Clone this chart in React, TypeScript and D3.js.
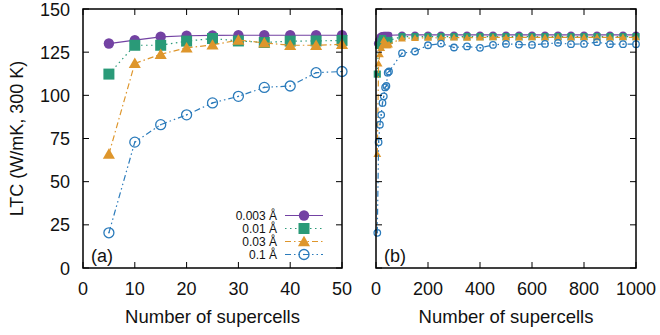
import React from 'react'
import * as d3 from 'd3'

// supercell counts
const xsSmall = [5, 10, 15, 20, 25, 30, 35, 40, 45, 50]
const xsLarge = [100, 150, 200, 250, 300, 350, 400, 450, 500, 550, 600, 650, 700, 750, 800, 850, 900, 950, 1000]

// LTC values (W/mK) per displacement
const ltc003Small = [130, 132, 133.9, 134.5, 134.7, 134.8, 134.8, 134.8, 134.8, 134.8]
const ltc003Large = [135, 135, 135, 135, 135, 135, 135, 135, 135, 135, 135, 135, 135, 135, 135, 135, 135, 135, 135]
const ltc01Small = [112.3, 129, 129, 131.4, 132.9, 131.5, 130.6, 131.4, 131.5, 131.8]
const ltc01Large = [134, 134, 134, 134, 134, 134, 134, 134, 134, 134, 134, 134, 134, 134, 134, 134, 134, 134, 134]
const ltc03Small = [66, 118.5, 123.8, 127.5, 129.2, 132, 130.4, 129, 129, 129.5]
const ltc03Large = [133, 133.2, 133.4, 133.3, 133.5, 133.4, 133.5, 133.6, 133.5, 133.5, 133.6, 133.5, 133.6, 133.5, 133.6, 133.6, 133.5, 133.6, 133.6]
const ltc1Small = [20.4, 72.9, 83, 88.7, 95.6, 99.4, 104.6, 105.4, 113.1, 113.8]
const ltc1Large = [124.4, 125.4, 129, 130, 127.7, 128.3, 127.5, 129.2, 129.8, 129.4, 129.2, 129.8, 130.4, 129.6, 129.8, 130.8, 129.6, 129.6, 129.6]

const seriesLabels = ['0.003 Å', '0.01 Å', '0.03 Å', '0.1 Å']
const colors = ['#7342a3', '#2a9a78', '#de962c', '#2b7bbb']
const dashes = ['none', '1.5,3.5', '6,3,1.5,3', '6,3,1.5,3,1.5,3']
const shapes = ['circle', 'square', 'triangle', 'open']

const yTicks = [0, 25, 50, 75, 100, 125, 150]
const xTicksA = [0, 10, 20, 30, 40, 50]
const xTicksB = [0, 200, 400, 600, 800, 1000]

const FONT = '"Liberation Sans", Arial, Helvetica, sans-serif'
const TOP = 9
const BOTTOM = 268

function Marker({ shape, color, x, y, s }) {
  if (shape === 'circle') return <circle cx={x} cy={y} r={5.2 * s} fill={color} />
  if (shape === 'square') return <rect x={x - 5.5 * s} y={y - 5.5 * s} width={11 * s} height={11 * s} fill={color} />
  if (shape === 'triangle') {
    const h = 5.5 * s
    return <path d={`M${x},${y - h * 1.05}L${x + h * 1.1},${y + h * 0.85}L${x - h * 1.1},${y + h * 0.85}Z`} fill={color} />
  }
  return (
    <g>
      <circle cx={x} cy={y} r={5 * s} fill="none" stroke={color} strokeWidth={1.3} />
      <circle cx={x} cy={y} r={0.8} fill={color} />
    </g>
  )
}

function Panel({ left, right, domainMax, ticks, series, ms, label }) {
  const x = d3.scaleLinear().domain([0, domainMax]).range([left, right])
  const y = d3.scaleLinear().domain([0, 150]).range([BOTTOM, TOP])
  const line = d3.line<number[]>().x(d => x(d[0])).y(d => y(d[1]))
  const tl = 6
  return (
    <g>
      {series.map((pts, i) => (
        <g key={i}>
          <path d={line(pts) || ''} fill="none" stroke={colors[i]} strokeWidth={1.2} strokeDasharray={dashes[i]} />
          {pts.map((p, j) => (
            <Marker key={j} shape={shapes[i]} color={colors[i]} x={x(p[0])} y={y(p[1])} s={ms} />
          ))}
        </g>
      ))}
      <rect x={left} y={TOP} width={right - left} height={BOTTOM - TOP} fill="none" stroke="#000" strokeWidth={1.5} />
      {yTicks.map(t => (
        <g key={t}>
          <line x1={left} x2={left + tl} y1={y(t)} y2={y(t)} stroke="#000" strokeWidth={1} />
          <line x1={right} x2={right - tl} y1={y(t)} y2={y(t)} stroke="#000" strokeWidth={1} />
        </g>
      ))}
      {ticks.map(t => (
        <g key={t}>
          <line x1={x(t)} x2={x(t)} y1={BOTTOM} y2={BOTTOM - tl} stroke="#000" strokeWidth={1} />
          <line x1={x(t)} x2={x(t)} y1={TOP} y2={TOP + tl} stroke="#000" strokeWidth={1} />
          <text x={x(t)} y={294.5} textAnchor="middle" fontSize={18} fontFamily={FONT} fill="#111">{t}</text>
        </g>
      ))}
      <text x={(left + right) / 2} y={323} textAnchor="middle" fontSize={18.5} fontFamily={FONT} fill="#111">Number of supercells</text>
      <text x={left + 8} y={262} fontSize={18} fontFamily={FONT} fill="#111">{label}</text>
    </g>
  )
}

export default function App() {
  const small = [ltc003Small, ltc01Small, ltc03Small, ltc1Small]
  const large = [ltc003Large, ltc01Large, ltc03Large, ltc1Large]
  const seriesA = small.map(v => xsSmall.map((xv, j) => [xv, v[j]]))
  const seriesB = small.map((v, i) => [
    ...xsSmall.map((xv, j) => [xv, v[j]]),
    ...xsLarge.map((xv, j) => [xv, large[i][j]]),
  ])
  const yA = d3.scaleLinear().domain([0, 150]).range([BOTTOM, TOP])
  const legendY = [215.5, 228.5, 241.5, 254.5]
  return (
    <svg width={660} height={335} style={{ position: 'absolute', left: 0, top: 0, background: '#fff' }}>
      <rect width={660} height={335} fill="#fff" />
      <Panel left={83} right={342} domainMax={50} ticks={xTicksA} series={seriesA} ms={1} label="(a)" />
      <Panel left={376} right={636} domainMax={1000} ticks={xTicksB} series={seriesB} ms={0.65} label="(b)" />
      {yTicks.map(t => (
        <text key={t} x={70} y={yA(t) + 6.5} textAnchor="end" fontSize={18} fontFamily={FONT} fill="#111">{t}</text>
      ))}
      <text transform={`translate(23,${(TOP + BOTTOM) / 2}) rotate(-90)`} textAnchor="middle" fontSize={18} fontFamily={FONT} fill="#111">LTC (W/mK, 300 K)</text>
      {seriesLabels.map((s, i) => (
        <g key={s}>
          <text x={277} y={legendY[i] + 4.5} textAnchor="end" fontSize={12} fontFamily={FONT} fill="#111">{s}</text>
          <line x1={285} x2={323} y1={legendY[i]} y2={legendY[i]} stroke={colors[i]} strokeWidth={1.2} strokeDasharray={dashes[i]} />
          <Marker shape={shapes[i]} color={colors[i]} x={304} y={legendY[i]} s={1} />
        </g>
      ))}
    </svg>
  )
}
